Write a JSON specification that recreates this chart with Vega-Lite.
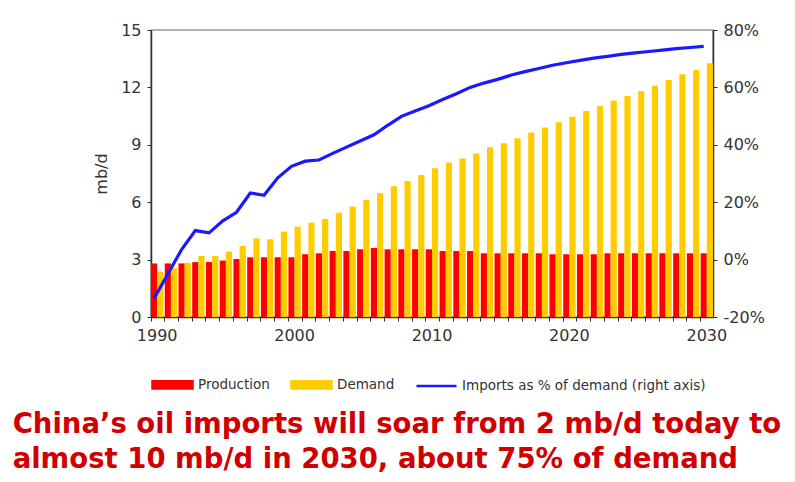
{
  "$schema": "https://vega.github.io/schema/vega-lite/v6.json",
  "width": 562,
  "height": 287,
  "padding": {"left": 12, "top": 22, "right": 0, "bottom": 0},
  "background": "white",
  "datasets": {
    "oil": [
      {"year": 1990, "series": "Production", "mbd": 2.8}, {"year": 1990, "series": "Demand", "mbd": 2.37},
      {"year": 1991, "series": "Production", "mbd": 2.8}, {"year": 1991, "series": "Demand", "mbd": 2.55},
      {"year": 1992, "series": "Production", "mbd": 2.8}, {"year": 1992, "series": "Demand", "mbd": 2.83},
      {"year": 1993, "series": "Production", "mbd": 2.87}, {"year": 1993, "series": "Demand", "mbd": 3.19},
      {"year": 1994, "series": "Production", "mbd": 2.87}, {"year": 1994, "series": "Demand", "mbd": 3.19},
      {"year": 1995, "series": "Production", "mbd": 2.95}, {"year": 1995, "series": "Demand", "mbd": 3.42},
      {"year": 1996, "series": "Production", "mbd": 3.03}, {"year": 1996, "series": "Demand", "mbd": 3.71},
      {"year": 1997, "series": "Production", "mbd": 3.12}, {"year": 1997, "series": "Demand", "mbd": 4.11},
      {"year": 1998, "series": "Production", "mbd": 3.12}, {"year": 1998, "series": "Demand", "mbd": 4.06},
      {"year": 1999, "series": "Production", "mbd": 3.12}, {"year": 1999, "series": "Demand", "mbd": 4.46},
      {"year": 2000, "series": "Production", "mbd": 3.12}, {"year": 2000, "series": "Demand", "mbd": 4.72},
      {"year": 2001, "series": "Production", "mbd": 3.28}, {"year": 2001, "series": "Demand", "mbd": 4.93},
      {"year": 2002, "series": "Production", "mbd": 3.33}, {"year": 2002, "series": "Demand", "mbd": 5.12},
      {"year": 2003, "series": "Production", "mbd": 3.45}, {"year": 2003, "series": "Demand", "mbd": 5.45},
      {"year": 2004, "series": "Production", "mbd": 3.45}, {"year": 2004, "series": "Demand", "mbd": 5.77},
      {"year": 2005, "series": "Production", "mbd": 3.54}, {"year": 2005, "series": "Demand", "mbd": 6.12},
      {"year": 2006, "series": "Production", "mbd": 3.61}, {"year": 2006, "series": "Demand", "mbd": 6.47},
      {"year": 2007, "series": "Production", "mbd": 3.54}, {"year": 2007, "series": "Demand", "mbd": 6.83},
      {"year": 2008, "series": "Production", "mbd": 3.54}, {"year": 2008, "series": "Demand", "mbd": 7.11},
      {"year": 2009, "series": "Production", "mbd": 3.54}, {"year": 2009, "series": "Demand", "mbd": 7.42},
      {"year": 2010, "series": "Production", "mbd": 3.54}, {"year": 2010, "series": "Demand", "mbd": 7.77},
      {"year": 2011, "series": "Production", "mbd": 3.45}, {"year": 2011, "series": "Demand", "mbd": 8.07},
      {"year": 2012, "series": "Production", "mbd": 3.45}, {"year": 2012, "series": "Demand", "mbd": 8.29},
      {"year": 2013, "series": "Production", "mbd": 3.45}, {"year": 2013, "series": "Demand", "mbd": 8.55},
      {"year": 2014, "series": "Production", "mbd": 3.33}, {"year": 2014, "series": "Demand", "mbd": 8.87},
      {"year": 2015, "series": "Production", "mbd": 3.33}, {"year": 2015, "series": "Demand", "mbd": 9.08},
      {"year": 2016, "series": "Production", "mbd": 3.33}, {"year": 2016, "series": "Demand", "mbd": 9.34},
      {"year": 2017, "series": "Production", "mbd": 3.33}, {"year": 2017, "series": "Demand", "mbd": 9.64},
      {"year": 2018, "series": "Production", "mbd": 3.33}, {"year": 2018, "series": "Demand", "mbd": 9.9},
      {"year": 2019, "series": "Production", "mbd": 3.28}, {"year": 2019, "series": "Demand", "mbd": 10.18},
      {"year": 2020, "series": "Production", "mbd": 3.28}, {"year": 2020, "series": "Demand", "mbd": 10.47},
      {"year": 2021, "series": "Production", "mbd": 3.28}, {"year": 2021, "series": "Demand", "mbd": 10.77},
      {"year": 2022, "series": "Production", "mbd": 3.28}, {"year": 2022, "series": "Demand", "mbd": 11.01},
      {"year": 2023, "series": "Production", "mbd": 3.33}, {"year": 2023, "series": "Demand", "mbd": 11.31},
      {"year": 2024, "series": "Production", "mbd": 3.33}, {"year": 2024, "series": "Demand", "mbd": 11.55},
      {"year": 2025, "series": "Production", "mbd": 3.33}, {"year": 2025, "series": "Demand", "mbd": 11.8},
      {"year": 2026, "series": "Production", "mbd": 3.33}, {"year": 2026, "series": "Demand", "mbd": 12.09},
      {"year": 2027, "series": "Production", "mbd": 3.33}, {"year": 2027, "series": "Demand", "mbd": 12.39},
      {"year": 2028, "series": "Production", "mbd": 3.33}, {"year": 2028, "series": "Demand", "mbd": 12.69},
      {"year": 2029, "series": "Production", "mbd": 3.33}, {"year": 2029, "series": "Demand", "mbd": 12.91},
      {"year": 2030, "series": "Production", "mbd": 3.33}, {"year": 2030, "series": "Demand", "mbd": 13.26}
    ],
    "imports": [
      {"year": 1990, "pct": -13.5}, {"year": 1991, "pct": -5}, {"year": 1992, "pct": 3.5},
      {"year": 1993, "pct": 10.1}, {"year": 1994, "pct": 9.3}, {"year": 1995, "pct": 13.5},
      {"year": 1996, "pct": 16.5}, {"year": 1997, "pct": 23.2}, {"year": 1998, "pct": 22.4},
      {"year": 1999, "pct": 28.5}, {"year": 2000, "pct": 32.5}, {"year": 2001, "pct": 34.3},
      {"year": 2002, "pct": 34.7}, {"year": 2003, "pct": 37}, {"year": 2004, "pct": 39.2},
      {"year": 2005, "pct": 41.3}, {"year": 2006, "pct": 43.5}, {"year": 2007, "pct": 46.8},
      {"year": 2008, "pct": 49.9}, {"year": 2009, "pct": 51.8}, {"year": 2010, "pct": 53.6},
      {"year": 2011, "pct": 55.8}, {"year": 2012, "pct": 57.8}, {"year": 2013, "pct": 60},
      {"year": 2014, "pct": 61.5}, {"year": 2015, "pct": 62.8}, {"year": 2016, "pct": 64.3},
      {"year": 2017, "pct": 65.5}, {"year": 2018, "pct": 66.6}, {"year": 2019, "pct": 67.7},
      {"year": 2020, "pct": 68.6}, {"year": 2021, "pct": 69.4}, {"year": 2022, "pct": 70.2},
      {"year": 2023, "pct": 70.8}, {"year": 2024, "pct": 71.5}, {"year": 2025, "pct": 72},
      {"year": 2026, "pct": 72.5}, {"year": 2027, "pct": 73}, {"year": 2028, "pct": 73.5},
      {"year": 2029, "pct": 73.9}, {"year": 2030, "pct": 74.3}
    ]
  },
  "title": {
    "text": ["China’s oil imports will soar from 2 mb/d today to", "almost 10 mb/d in 2030, about 75% of demand"],
    "orient": "bottom",
    "anchor": "start",
    "frame": "bounds",
    "dx": -81,
    "offset": 17,
    "font": "DejaVu Sans",
    "fontSize": 27.5,
    "fontWeight": "bold",
    "color": "#d00000",
    "lineHeight": 35
  },
  "layer": [
    {
      "data": {"name": "oil"},
      "mark": {"type": "bar"},
      "encoding": {
        "x": {
          "field": "year",
          "type": "ordinal",
          "title": null,
          "scale": {"paddingInner": 0.1, "paddingOuter": 0},
          "axis": {
            "bandPosition": 0,
            "labelExpr": "datum.value % 10 === 0 ? datum.value : ''",
            "labelOverlap": false,
            "labelAngle": 0,
            "labelDx": 4,
            "labelPadding": 6
          }
        },
        "xOffset": {"field": "series", "type": "nominal", "scale": {"domain": ["Production", "Demand"], "paddingInner": 0}},
        "y": {
          "field": "mbd",
          "type": "quantitative",
          "title": "mb/d",
          "scale": {"domain": [0, 15]},
          "axis": {"values": [0, 3, 6, 9, 12, 15], "grid": false, "titlePadding": 11}
        },
        "color": {
          "field": "series",
          "type": "nominal",
          "scale": {
            "domain": ["Production", "Demand", "Imports as % of demand (right axis)"],
            "range": ["#ff0000", "#ffcc00", "#1a1aff"]
          },
          "legend": {
            "title": null,
            "orient": "bottom",
            "direction": "horizontal",
            "offset": 20,
            "symbolSize": 1600,
            "columnPadding": 16,
            "labelOffset": 4,
            "labelLimit": 400,
            "labelFont": "DejaVu Sans",
            "labelFontSize": 13.5,
            "labelColor": "#333333",
            "encode": {
              "symbols": {
                "update": {
                  "shape": {"signal": "datum.label === 'Imports as % of demand (right axis)' ? 'M-1,0H1' : 'M-1,-0.18H1V0.18H-1Z'"},
                  "fill": {"signal": "datum.label === 'Imports as % of demand (right axis)' ? 'transparent' : (datum.label === 'Production' ? '#ff0000' : '#ffcc00')"},
                  "stroke": {"signal": "datum.label === 'Imports as % of demand (right axis)' ? '#1a1aff' : 'transparent'"},
                  "strokeWidth": {"value": 2.5},
                  "opacity": {"value": 1}
                }
              }
            }
          }
        }
      }
    },
    {
      "data": {"name": "imports"},
      "mark": {"type": "line", "strokeWidth": 3.2},
      "encoding": {
        "x": {"field": "year", "type": "ordinal", "bandPosition": 0.25},
        "y": {
          "field": "pct",
          "type": "quantitative",
          "title": null,
          "scale": {"domain": [-20, 80]},
          "axis": {"orient": "right", "values": [-20, 0, 20, 40, 60, 80], "grid": false, "labelExpr": "datum.value + '%'"}
        },
        "color": {"datum": "Imports as % of demand (right axis)"}
      }
    }
  ],
  "resolve": {"scale": {"y": "independent"}},
  "config": {
    "view": {"stroke": "#999999", "strokeWidth": 1.5},
    "axis": {
      "domainColor": "#333333",
      "domainWidth": 1.5,
      "tickColor": "#333333",
      "tickSize": 4,
      "labelFont": "DejaVu Sans",
      "labelFontSize": 16,
      "labelColor": "#333333",
      "labelPadding": 6,
      "titleFont": "DejaVu Sans",
      "titleFontSize": 16,
      "titleFontWeight": "normal",
      "titleColor": "#333333"
    }
  }
}
